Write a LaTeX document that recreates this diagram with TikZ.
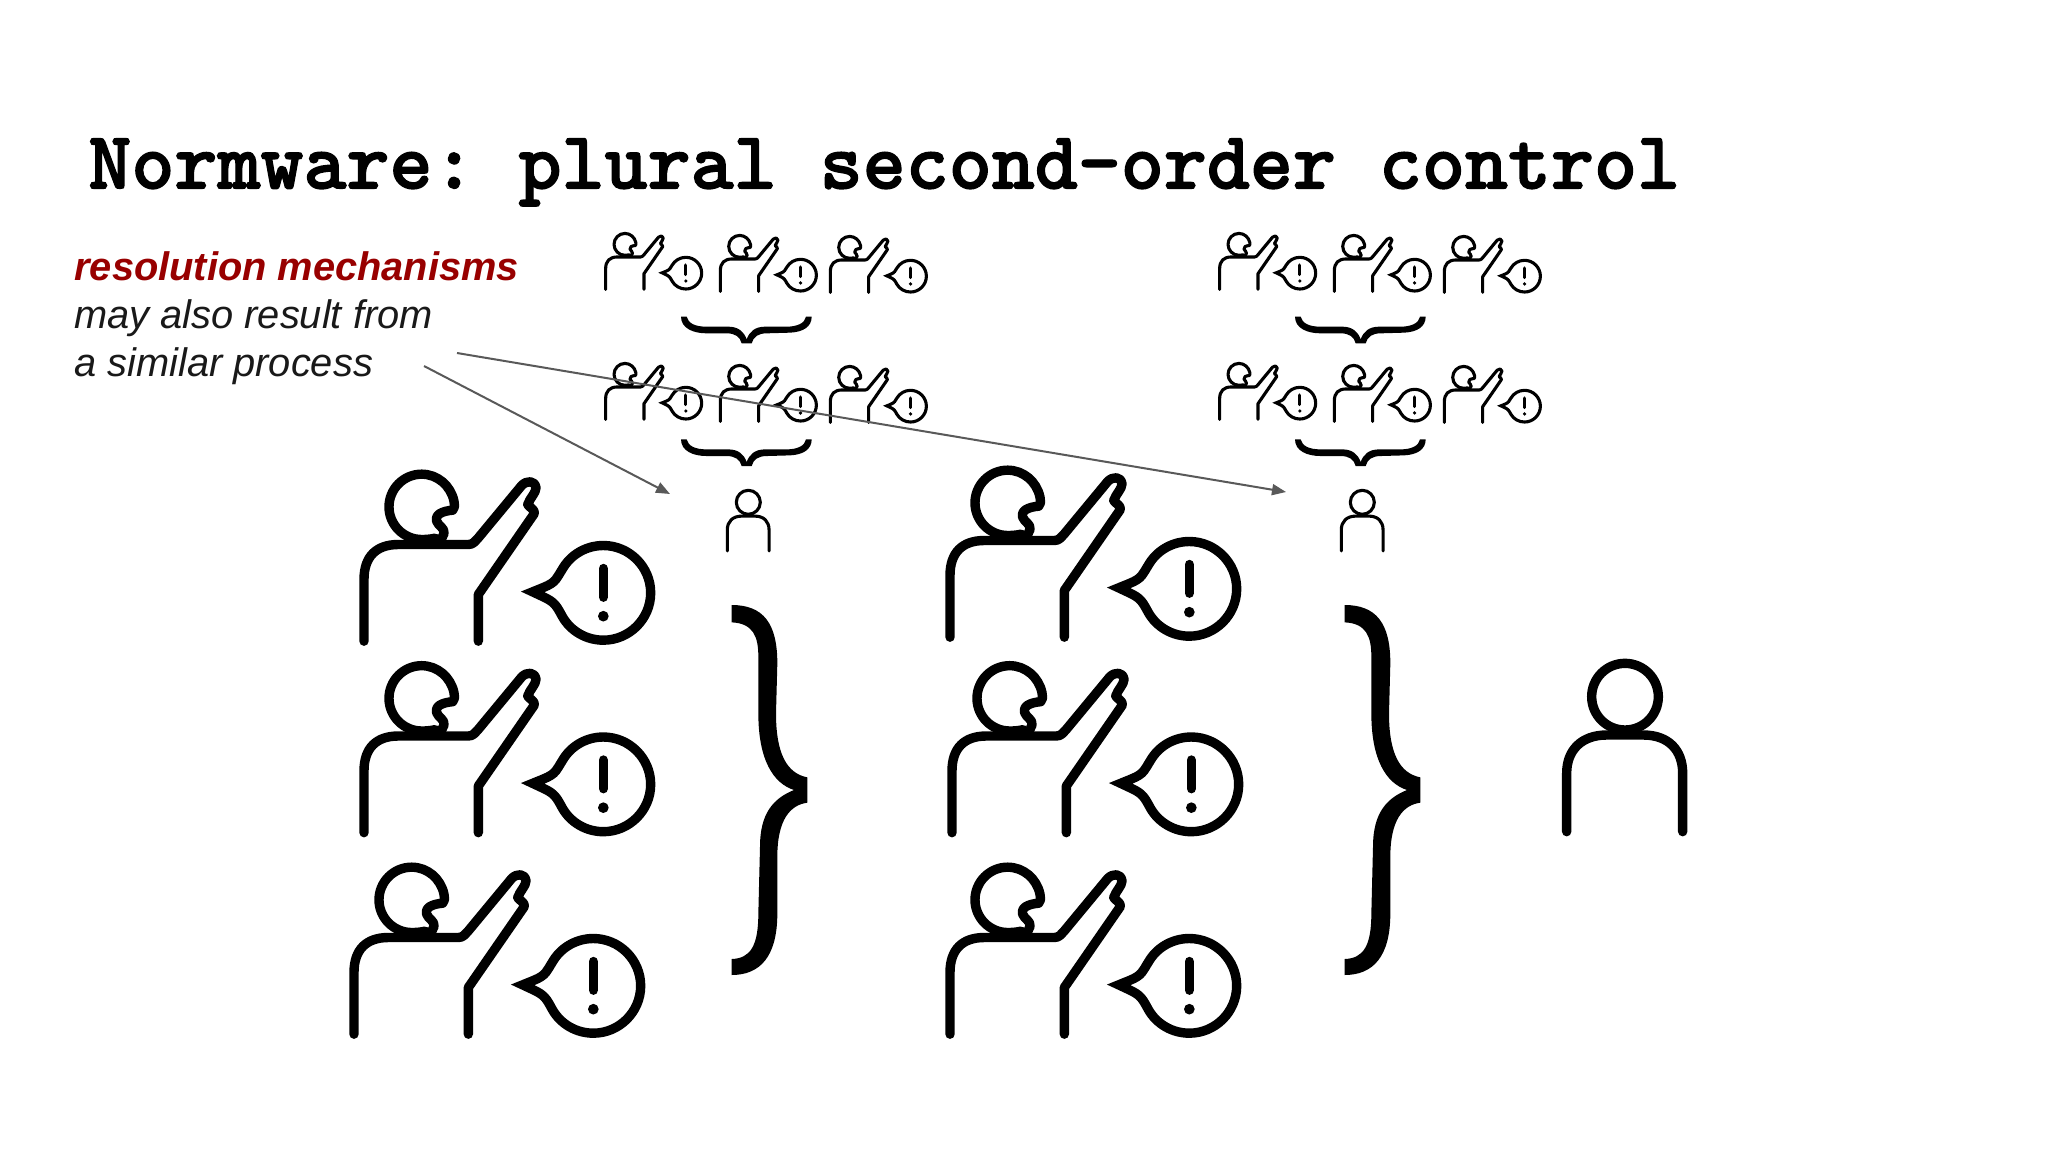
\documentclass[tikz,border=0pt]{standalone}
\usepackage{fontspec}
\setmainfont{Liberation Sans}
\newfontfamily\titlefont[FakeBold=1.6]{lmmonolt10-bold.otf}
\usetikzlibrary{arrows.meta}
\definecolor{annotred}{HTML}{980000}
\definecolor{arrowgray}{HTML}{595959}
\tikzset{
  icon/.style={draw=black,line cap=round,line join=round},
  gray arrow/.style={draw=arrowgray,line width=1pt,-{Triangle[length=7pt,width=5.5pt]}},
  note/.style={anchor=base west,inner sep=0pt,font=\fontsize{19.9}{20}\selectfont\itshape},
}
\newcommand{\raiser}[4]{%
 \begin{scope}[shift={(#1,#2)},scale=#3/3,icon,line width=#4pt]
  % head and mouth
  \draw (285,236) .. controls (272,239) and (258,240) .. (245,240)
     .. controls (191,240) and (147,196) .. (147,142)
     .. controls (147,88) and (191,44) .. (245,44)
     .. controls (292,44) and (332,78) .. (342,125)
     .. controls (344,140) and (344,148) .. (338,152)
     .. controls (305,155) and (285,165) .. (290,185)
     .. controls (295,200) and (315,205) .. (312,222)
     .. controls (310,232) and (303,238) .. (298,245);
  % body and raised arm
  \draw (72,545) -- (72,360) .. controls (72,290) and (110,255) .. (175,255)
     -- (385,255) .. controls (400,255) and (405,245) .. (415,235)
     -- (545,78) .. controls (560,62) and (585,62) .. (588,85)
     .. controls (588,100) and (570,115) .. (563,135)
     .. controls (570,145) and (585,150) .. (583,162)
     -- (415,405) -- (415,545);
  % speech bubble
  \draw[line join=miter,miter limit=10] (578,397) -- (610,384) .. controls (650,368) and (650,355) .. (667,329)
     .. controls (692,285) and (739,258) .. (790,258)
     .. controls (868,258) and (932,322) .. (932,400)
     .. controls (932,478) and (868,542) .. (790,542)
     .. controls (739,542) and (692,515) .. (667,471)
     .. controls (650,440) and (645,428) .. (610,412) -- cycle;
  \draw (790,327) -- (790,413);
  \fill (790,470) circle[radius=16];
 \end{scope}}
\newcommand{\person}[4]{%
 \begin{scope}[shift={(#1,#2)},scale=#3/3,icon,line width=#4pt]
  \draw (375,200) circle[radius=100];
  \draw (200,605) -- (200,430) .. controls (200,360) and (245,315) .. (320,315)
     -- (430,315) .. controls (505,315) and (548,360) .. (548,430) -- (548,605);
 \end{scope}}
\newcommand{\bigbrace}[2]{%
 \fill[shift={(#1,#2)},scale=1/3] (95,75) .. controls (190,75) and (232,130) .. (232,250)
   -- (228,400) .. controls (228,520) and (260,580) .. (322,592) -- (322,668)
   .. controls (270,675) and (232,720) .. (232,830) -- (232,1000)
   .. controls (232,1130) and (180,1185) .. (95,1185) -- (95,1137)
   .. controls (150,1135) and (175,1100) .. (175,1000) -- (180,800)
   .. controls (180,700) and (220,655) .. (282,630)
   .. controls (220,610) and (175,540) .. (175,400) -- (175,230)
   .. controls (175,170) and (160,130) .. (95,127) -- cycle;}
\newcommand{\smallbrace}[2]{%
 \fill[shift={(#1,#2)},scale=1/3] (273,290) .. controls (273,325) and (310,340) .. (350,340)
   -- (410,340) .. controls (435,340) and (450,350) .. (455,370) -- (485,370)
   .. controls (490,350) and (505,340) .. (530,340) -- (600,338)
   .. controls (640,336) and (665,320) .. (665,290) -- (648,290)
   .. controls (645,310) and (620,320) .. (590,320) -- (525,320)
   .. controls (495,320) and (478,335) .. (470,358)
   .. controls (462,335) and (445,320) .. (415,320) -- (350,320)
   .. controls (315,320) and (295,310) .. (290,290) -- cycle;}
\begin{document}
\begin{tikzpicture}[x=0.5pt,y=-0.5pt]
\useasboundingbox (0,0) rectangle (2048,1152);
\fill[white] (0,0) rectangle (2048,1152);
\node[anchor=base west,inner sep=0pt,font=\titlefont\frenchspacing\fontsize{40.97}{41}\selectfont] (title) at (88,188.5) {Normware: plural second-order control};
\node[note,font=\fontsize{19.9}{20}\selectfont\bfseries\itshape,text=annotred] (n1) at (74,280) {resolution mechanisms};
\node[note,text=black!90] (n2) at (74,328) {may also result from};
\node[note,text=black!90] (n3) at (74,376) {a similar process};
% big raisers
\raiser{340}{459.5}{1}{4.7}
\raiser{340}{651}{1}{4.7}
\raiser{330}{852.5}{1}{4.7}
\raiser{926}{455.5}{1}{4.7}
\raiser{928}{651}{1}{4.7}
\raiser{926}{852.5}{1}{4.7}
\bigbrace{700}{580}
\bigbrace{1313}{580}
\person{1500}{630}{1}{4.7}
% small raisers
\foreach \dx in {0,614}{
 \foreach \dy in {0,130}{
  \raiser{597.6+\dx}{228.5+\dy}{.335}{1.55}
  \raiser{712.3+\dx}{230.5+\dy}{.335}{1.55}
  \raiser{822.3+\dx}{231.5+\dy}{.335}{1.55}
 }
 \smallbrace{590+\dx}{220}
 \smallbrace{590+\dx}{342.7}
 \person{703.3+\dx}{478.3}{.36}{1.55}
}
\coordinate (a1s) at (424,366);
\coordinate (a1e) at (670,494);
\coordinate (a2s) at (457,353);
\coordinate (a2e) at (1286,492);
\draw[gray arrow] (a1s) -- (a1e);
\draw[gray arrow] (a2s) -- (a2e);
\end{tikzpicture}
\end{document}
